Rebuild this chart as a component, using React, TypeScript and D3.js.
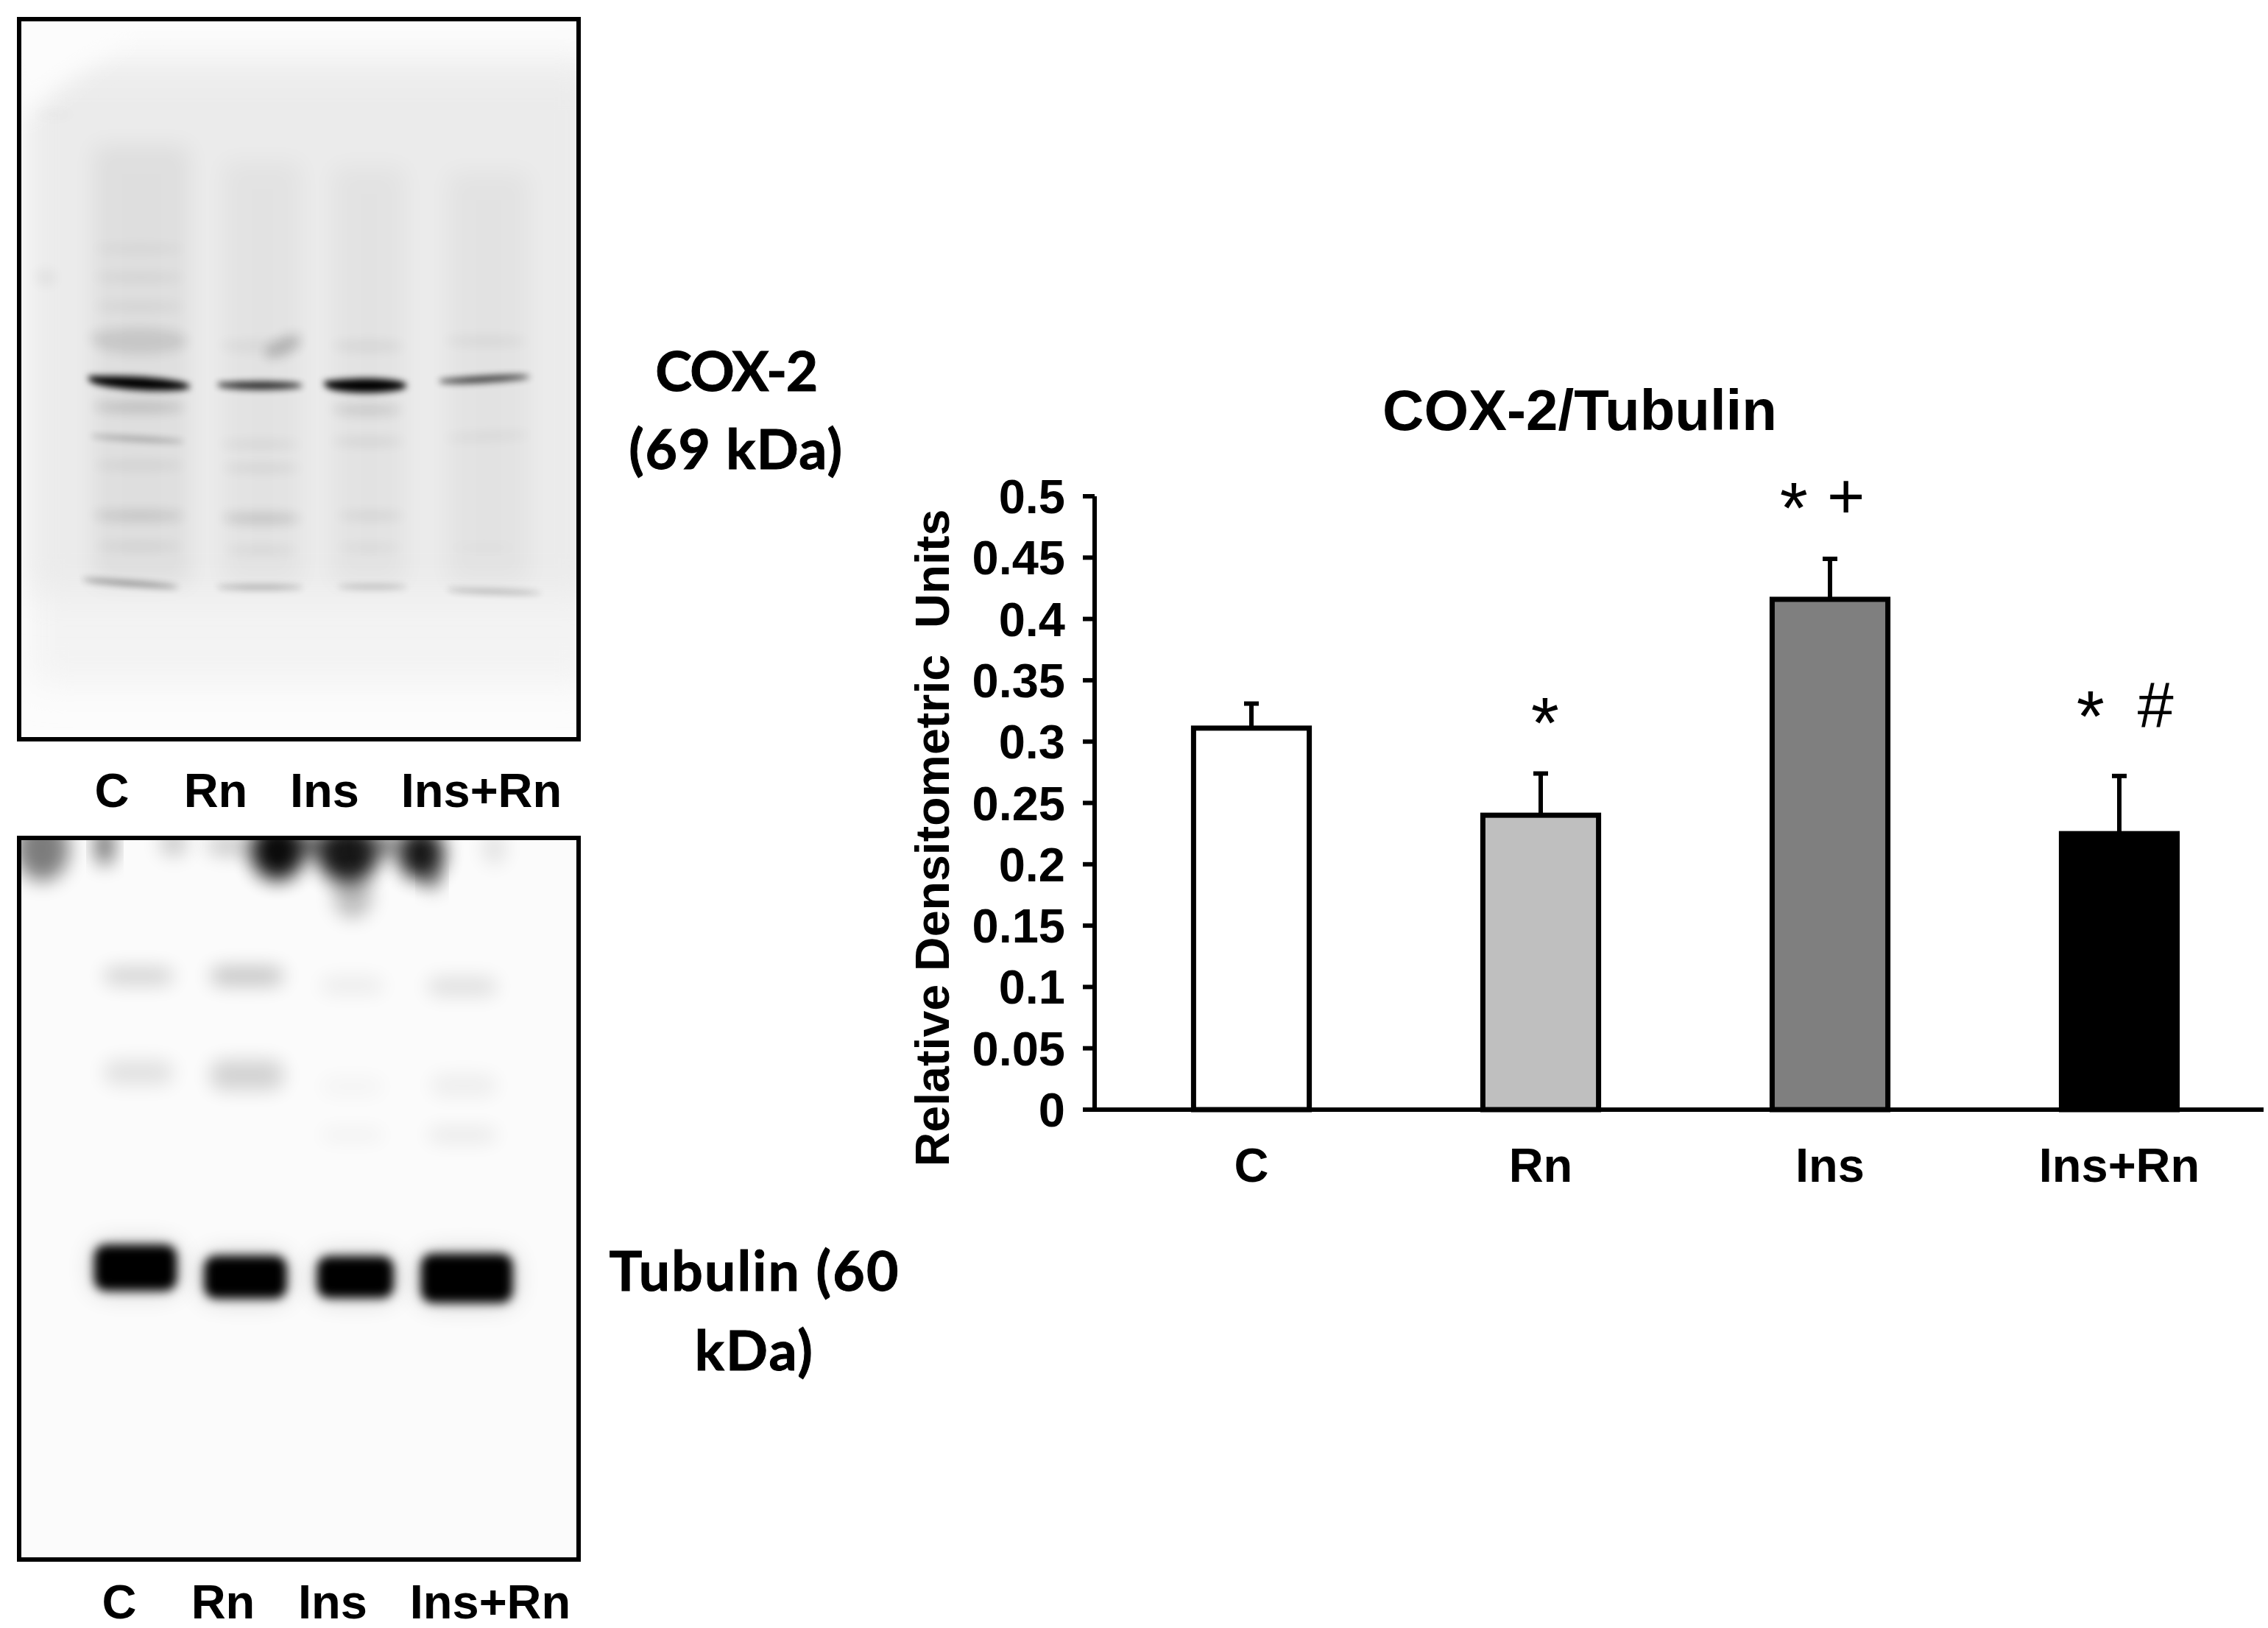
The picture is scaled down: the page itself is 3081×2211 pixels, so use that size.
import React, { useMemo } from "react";
import * as d3 from "d3";

const categories = ["C", "Rn", "Ins", "Ins+Rn"];
const means = [0.311, 0.24, 0.416, 0.225];
const errorTops = [0.331, 0.274, 0.449, 0.272];
const barFills = ["#ffffff", "#bfbfbf", "#7f7f7f", "#000000"];
const yTicks = [0, 0.05, 0.1, 0.15, 0.2, 0.25, 0.3, 0.35, 0.4, 0.45, 0.5];
const yTickLabels = ["0", "0.05", "0.1", "0.15", "0.2", "0.25", "0.3", "0.35", "0.4", "0.45", "0.5"];
// glyph, category index, horizontal offset (fraction of a band), value level of the glyph centre
const annotations: [string, number, number, number][] = [
  ["*", 1, 0.015, 0.325],
  ["*", 2, -0.125, 0.5],
  ["+", 2, 0.055, 0.5],
  ["*", 3, -0.1, 0.33],
  ["#", 3, 0.125, 0.33],
];

// Western blot bands: lane start, lane end, y centre, height, darkness, slant (blot-image units)
const coxBands: [number, number, number, number, number, number][] = [
  [155, 340, 720, 30, 1, 12], [385, 540, 724, 18, 0.85, 0], [575, 725, 724, 32, 1, 0], [780, 945, 712, 14, 0.8, -10],
  [160, 335, 640, 60, 0.1, 0], [470, 535, 650, 42, 0.18, -30], [390, 540, 650, 30, 0.04, 0], [590, 720, 650, 26, 0.05, 0], [790, 940, 640, 20, 0.05, 0],
  [165, 330, 465, 14, 0.05, 0], [165, 330, 520, 16, 0.06, 0], [165, 330, 575, 16, 0.06, 0],
  [165, 330, 765, 22, 0.16, 0], [590, 715, 770, 22, 0.12, 0],
  [160, 330, 825, 10, 0.3, 10], [390, 535, 835, 10, 0.1, 0], [590, 720, 830, 10, 0.12, 0], [790, 945, 820, 8, 0.1, -8],
  [165, 330, 875, 12, 0.09, 0], [395, 535, 880, 12, 0.1, 0], [165, 330, 970, 22, 0.13, 0], [395, 535, 975, 24, 0.14, 0], [600, 720, 970, 12, 0.1, 0],
  [170, 325, 1028, 12, 0.09, 0], [400, 530, 1035, 12, 0.08, 0], [600, 715, 1030, 10, 0.07, 0], [800, 920, 1030, 8, 0.04, 0],
  [145, 320, 1098, 10, 0.45, 14], [385, 540, 1105, 10, 0.3, 0], [600, 725, 1104, 9, 0.25, 0], [795, 965, 1113, 9, 0.3, 6],
  [60, 130, 212, 8, 0.05, 0], [60, 100, 520, 40, 0.04, 0],
];
const coxSmears: [number, number, number, number, number][] = [
  [165, 335, 270, 1100, 0.05], [395, 535, 300, 1100, 0.03], [590, 720, 310, 1100, 0.03], [795, 940, 320, 1100, 0.03],
];
const tubulinBands: [number, number, number, number, number, number][] = [
  [155, 290, 880, 88, 1, 0], [335, 470, 898, 82, 1, 0], [520, 645, 898, 80, 1, 0], [690, 840, 900, 94, 1, 4],
  [170, 285, 320, 34, 0.16, 0], [345, 465, 320, 36, 0.22, 0], [525, 630, 338, 34, 0.06, 0], [700, 815, 340, 36, 0.11, 0],
  [170, 285, 505, 48, 0.1, 0], [345, 465, 510, 58, 0.16, 0], [525, 630, 532, 40, 0.025, 0], [705, 815, 530, 44, 0.05, 0],
  [525, 630, 625, 26, 0.04, 0], [700, 815, 625, 30, 0.07, 0],
];
const tubulinSmudges: [number, number, number, number, number][] = [
  [70, 75, 70, 100, 0.5], [172, 70, 22, 60, 0.65], [285, 65, 36, 40, 0.2], [455, 80, 70, 90, 0.95], [570, 85, 80, 90, 0.9],
  [578, 165, 50, 70, 0.25], [690, 85, 60, 80, 0.9], [708, 130, 20, 40, 0.5], [810, 75, 30, 50, 0.1], [380, 70, 70, 30, 0.2], [510, 70, 60, 30, 0.6], [630, 70, 50, 30, 0.5],
];
const laneLabels = ["C", "Rn", "Ins", "Ins+Rn"];
const labelRowTopX = [152, 293, 441, 654];
const labelRowBottomX = [162, 303, 452, 666];

const W = 3081, H = 2211;
const plot = { left: 1487, right: 3075, top: 674, bottom: 1507 };
const arial = "'Liberation Sans', Arial, sans-serif";
const lato = "Lato, sans-serif";

export default function App() {
  const x = useMemo(() => d3.scaleBand<string>().domain(categories).range([1503.5, 3075.5]).paddingInner(0.6).paddingOuter(0.3), []);
  const y = useMemo(() => d3.scaleLinear().domain([0, 0.5]).range([plot.bottom, plot.top]), []);
  const band = x.step();

  // blot-image coordinates to page coordinates
  const cx = d3.scaleLinear().domain([32, 1028]).range([26, 786]);
  const cy = d3.scaleLinear().domain([32, 1392]).range([26, 1004]);
  const tx = d3.scaleLinear().domain([32, 948]).range([26, 786]);
  const ty = d3.scaleLinear().domain([55, 1440]).range([1138, 2118]);

  const bandPath = (sx: any, sy: any, b: number[]) => {
    const [a, c, m, h, , s] = b;
    const top = d3.line().curve(d3.curveBasis);
    const mid = (a + c) / 2;
    return (
      top([
        [sx(a), sy(m - s / 2 - h / 4)], [sx(mid), sy(m - h / 2)], [sx(c), sy(m + s / 2 - h / 4)],
        [sx(c), sy(m + s / 2 + h / 4)], [sx(mid), sy(m + h / 2)], [sx(a), sy(m - s / 2 + h / 4)], [sx(a), sy(m - s / 2 - h / 4)],
      ] as any) + "Z"
    );
  };

  return (
    <svg width={W} height={H} viewBox={`0 0 ${W} ${H}`} style={{ position: "absolute", left: 0, top: 0, display: "block", background: "#fff" }}>
      <defs>
        <filter id="b40" x="-30%" y="-30%" width="160%" height="160%"><feGaussianBlur stdDeviation="24" /></filter>
        <filter id="b18" x="-30%" y="-30%" width="160%" height="160%"><feGaussianBlur stdDeviation="16" /></filter>
        <filter id="b12" x="-60%" y="-100%" width="220%" height="300%"><feGaussianBlur stdDeviation="13" /></filter>
        <filter id="b8" x="-20%" y="-300%" width="140%" height="700%"><feGaussianBlur stdDeviation="8" /></filter>
        <filter id="b5" x="-20%" y="-200%" width="140%" height="500%"><feGaussianBlur stdDeviation="5" /></filter>
        <filter id="b4" x="-20%" y="-60%" width="140%" height="220%"><feGaussianBlur stdDeviation="7" /></filter>
        <filter id="halo" x="-40%" y="-100%" width="180%" height="300%"><feGaussianBlur stdDeviation="18" /></filter>
        <clipPath id="c1"><rect x={26} y={26} width={760} height={978} /></clipPath>
        <clipPath id="c2"><rect x={26} y={1138} width={760} height={980} /></clipPath>
      </defs>

      {/* COX-2 blot */}
      <g clipPath="url(#c1)">
        <rect x={26} y={26} width={760} height={978} fill="#fcfcfc" />
        <rect x={cx(55)} y={cy(100)} width={cx(1060) - cx(55)} height={cy(1290) - cy(100)} fill="#f3f3f3" filter="url(#b40)" />
        <rect x={cx(50)} y={cy(130)} width={cx(1060) - cx(50)} height={cy(1120) - cy(130)} fill="#ebebeb" filter="url(#b40)" />
        <path d={`M${cx(0)},${cy(0)} H${cx(300)} L${cx(20)},${cy(230)} Z`} fill="#fcfcfc" filter="url(#b18)" />
        {coxSmears.map((s, i) => (
          <rect key={i} x={cx(s[0])} y={cy(s[2])} width={cx(s[1]) - cx(s[0])} height={cy(s[3]) - cy(s[2])} fill="#000" opacity={s[4]} filter="url(#b18)" />
        ))}
        {coxBands.map((b, i) => (
          <path key={i} d={bandPath(cx, cy, b)} fill="#000" opacity={b[4]} filter={b[4] < 0.2 ? "url(#b8)" : "url(#b5)"} />
        ))}
      </g>
      <rect x={26} y={26} width={760} height={978} fill="none" stroke="#000" strokeWidth={6} />

      {/* Tubulin blot */}
      <g clipPath="url(#c2)">
        <rect x={26} y={1138} width={760} height={980} fill="#fbfbfb" />
        {tubulinSmudges.map((s, i) => (
          <ellipse key={i} cx={tx(s[0])} cy={ty(s[1])} rx={(tx(s[2]) - tx(0)) / 1.6} ry={(ty(s[3]) - ty(0)) / 1.6} fill="#000" opacity={s[4]} filter="url(#b12)" />
        ))}
        {tubulinBands.map((b, i) => b[4] === 1 && (
          <rect key={"h" + i} x={tx(b[0])} y={ty(b[2] - b[3] / 2)} width={tx(b[1]) - tx(b[0])} height={ty(b[3]) - ty(0)} rx={16} fill="#000" opacity={0.22} filter="url(#halo)" />
        ))}
        {tubulinBands.map((b, i) => (
          <rect key={i} x={tx(b[0])} y={ty(b[2] - b[3] / 2)} width={tx(b[1]) - tx(b[0])} height={ty(b[3]) - ty(0)} rx={16} fill="#000" opacity={b[4]} filter={b[4] === 1 ? "url(#b4)" : "url(#b12)"} />
        ))}
      </g>
      <rect x={26} y={1138} width={760} height={980} fill="none" stroke="#000" strokeWidth={6} />

      {/* Lane labels */}
      <g fontFamily={arial} fontWeight={700} fontSize={65} textAnchor="middle" fill="#000">
        {laneLabels.map((l, i) => <text key={i} x={labelRowTopX[i]} y={1096}>{l}</text>)}
        {laneLabels.map((l, i) => <text key={i} x={labelRowBottomX[i]} y={2198}>{l}</text>)}
      </g>

      {/* Blot names */}
      <g fontFamily={lato} fontWeight={700} fontSize={75} textAnchor="middle" fill="#000" stroke="#000" strokeWidth={1}>
        <text x={1000} y={531} letterSpacing={-1.5}>COX-2</text>
        <text x={1000} y={637} letterSpacing={1.5}>(69 kDa)</text>
        <text x={1025} y={1753} letterSpacing={2.2}>Tubulin (60</text>
        <text x={1025} y={1861} letterSpacing={2.2}>kDa)</text>
      </g>

      {/* Bar chart */}
      <text x={2146} y={584} fontFamily={arial} fontWeight={700} fontSize={78} textAnchor="middle">COX-2/Tubulin</text>
      {categories.map((c, i) => {
        const bx = x(c)!, cxm = bx + x.bandwidth() / 2;
        return (
          <g key={c}>
            <line x1={cxm} x2={cxm} y1={y(means[i])} y2={y(errorTops[i])} stroke="#000" strokeWidth={6} />
            <line x1={cxm - 10} x2={cxm + 10} y1={y(errorTops[i])} y2={y(errorTops[i])} stroke="#000" strokeWidth={6} />
            <rect x={bx} y={y(means[i])} width={x.bandwidth()} height={y(0) - y(means[i])} fill={barFills[i]} stroke="#000" strokeWidth={7} />
            <text x={cxm} y={1605} fontFamily={arial} fontWeight={700} fontSize={65} textAnchor="middle">{c}</text>
          </g>
        );
      })}
      <line x1={plot.left} x2={plot.left} y1={y(0.5)} y2={y(0)} stroke="#000" strokeWidth={6} />
      <line x1={plot.left - 16} x2={plot.right} y1={y(0)} y2={y(0)} stroke="#000" strokeWidth={6} />
      {yTicks.map((t, i) => (
        <g key={t}>
          <line x1={plot.left - 16} x2={plot.left} y1={y(t)} y2={y(t)} stroke="#000" strokeWidth={6} />
          <text x={plot.left - 40} y={y(t) + 23} fontFamily={arial} fontWeight={700} fontSize={65} textAnchor="end">{yTickLabels[i]}</text>
        </g>
      ))}
      <text transform={`translate(1289,${(694 + 1582) / 2}) rotate(-90)`} fontFamily={arial} fontWeight={700} fontSize={64.5} textAnchor="middle" style={{ whiteSpace: "pre" }}>Relative Densitometric  Units</text>
      {annotations.map(([g, ci, dx, v], i) => (
        <text key={i} x={x(categories[ci])! + x.bandwidth() / 2 + dx * band} y={y(v) + (g === "*" ? 50 : 30)} fontFamily={arial} fontSize={g === "*" ? 98 : 88} textAnchor="middle">{g}</text>
      ))}
    </svg>
  );
}
